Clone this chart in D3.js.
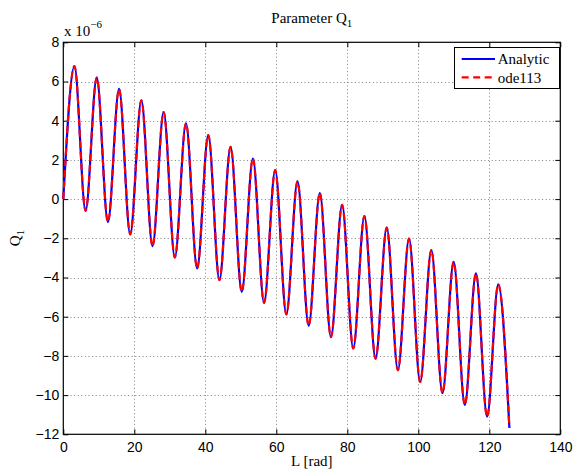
<!DOCTYPE html>
<html>
<head>
<meta charset="utf-8">
<script src="https://cdn.jsdelivr.net/npm/d3@7"></script>
<style>
  body { margin: 0; background: #fff; }
  svg { display: block; font-family: "Liberation Serif", "Times New Roman", serif; }
</style>
</head>
<body>
<svg id="svg" width="573" height="471"></svg>
<script>
const $svg = d3.select('#svg')

// extrema of Q1 (units of 1e-6), L in rad
const troughL = [0, 6.28, 12.57, 18.85, 25.13, 31.42, 37.70, 43.98, 50.27, 56.55, 62.83,
	69.12, 75.40, 81.68, 87.96, 94.25, 100.53, 106.81, 113.10, 119.38, 125.66]
const troughQ = [0, -0.60, -1.17, -1.80, -2.40, -2.98, -3.54, -4.13, -4.73, -5.29, -5.88,
	-6.46, -7.04, -7.62, -8.14, -8.73, -9.33, -9.90, -10.50, -11.10, -11.68]
const peakL = [3.14, 9.42, 15.71, 21.99, 28.27, 34.56, 40.84, 47.12, 53.41, 59.69,
	65.97, 72.26, 78.54, 84.82, 91.11, 97.39, 103.67, 109.96, 116.24, 122.52]
const peakQ = [6.79, 6.20, 5.62, 5.04, 4.44, 3.87, 3.27, 2.67, 2.07, 1.48,
	0.90, 0.31, -0.29, -0.87, -1.46, -2.02, -2.60, -3.20, -3.79, -4.35]

const xTicks = [0, 20, 40, 60, 80, 100, 120, 140]
const yTicks = [-12, -10, -8, -6, -4, -2, 0, 2, 4, 6, 8]
const seriesNames = ['Analytic', 'ode113']

const plotLeft = 63.3, plotRight = 560.3, plotTop = 42.3, plotBottom = 434.3

const xScale = d3.scaleLinear().domain([0, 140]).range([plotLeft, plotRight])
const yScale = d3.scaleLinear().domain([-12, 8]).range([plotBottom, plotTop])

// interleave troughs and peaks into one curve
const points = []
troughL.forEach((l, i) => {
	points.push({ x: l, y: troughQ[i] })
	if (i < peakL.length) points.push({ x: peakL[i], y: peakQ[i] })
})

// grid
const $grid = $svg.append('g')
	.attr('stroke', '#808080')
	.attr('stroke-width', 1)
	.attr('stroke-dasharray', '1,2.6')
$grid.selectAll('.gx').data(xTicks.slice(1, -1)).join('line').attr('class', 'gx')
	.attr('x1', d => Math.round(xScale(d)) + 0.5).attr('x2', d => Math.round(xScale(d)) + 0.5)
	.attr('y1', plotTop).attr('y2', plotBottom)
$grid.selectAll('.gy').data(yTicks.slice(1, -1)).join('line').attr('class', 'gy')
	.attr('y1', d => Math.round(yScale(d)) + 0.5).attr('y2', d => Math.round(yScale(d)) + 0.5)
	.attr('x1', plotLeft).attr('x2', plotRight)

// axes
const styleAxis = (g) => {
	g.select('.domain').remove()
	g.selectAll('line').attr('stroke', '#000')
	g.selectAll('text').attr('font-size', 14).attr('fill', '#000')
}
$svg.append('g').attr('transform', `translate(0,${plotBottom})`)
	.call(d3.axisBottom(xScale).tickValues(xTicks).tickSize(-5).tickPadding(8).tickFormat(d3.format('d')))
	.call(styleAxis)
$svg.append('g').attr('transform', `translate(0,${plotTop})`)
	.call(d3.axisTop(xScale).tickValues(xTicks).tickSize(-5).tickFormat(''))
	.call(styleAxis)
$svg.append('g').attr('transform', `translate(${plotLeft},0)`)
	.call(d3.axisLeft(yScale).tickValues(yTicks).tickSize(-5).tickPadding(4).tickFormat(d => d < 0 ? '\u2212' + Math.abs(d) : d))
	.call(styleAxis)
$svg.append('g').attr('transform', `translate(${plotRight},0)`)
	.call(d3.axisRight(yScale).tickValues(yTicks).tickSize(-5).tickFormat(''))
	.call(styleAxis)

$svg.append('rect')
	.attr('x', plotLeft).attr('y', plotTop)
	.attr('width', plotRight - plotLeft).attr('height', plotBottom - plotTop)
	.attr('fill', 'none').attr('stroke', '#000').attr('stroke-width', 1.2)

// curves
const generateLine = d3.line()
	.x(d => xScale(d.x))
	.y(d => yScale(d.y))
	.curve(d3.curveMonotoneX)

$svg.append('path')
	.attr('d', generateLine(points))
	.attr('fill', 'none').attr('stroke', '#0000ff').attr('stroke-width', 2.2)
$svg.append('path')
	.attr('d', generateLine(points))
	.attr('fill', 'none').attr('stroke', '#ff0000').attr('stroke-width', 2.2)
	.attr('stroke-dasharray', '7,4')

// exponent
const $exp = $svg.append('text').attr('x', 64).attr('y', 36).attr('font-size', 15)
$exp.append('tspan').text('x 10')
$exp.append('tspan').attr('dy', -8).attr('font-size', 11).text('\u22126')

// title
const $title = $svg.append('text').attr('x', (plotLeft + plotRight) / 2).attr('y', 23)
	.attr('text-anchor', 'middle').attr('font-size', 15)
$title.append('tspan').text('Parameter Q')
$title.append('tspan').attr('dy', 4).attr('font-size', 11).text('1')

// axis labels
$svg.append('text').attr('x', (plotLeft + plotRight) / 2).attr('y', 466)
	.attr('text-anchor', 'middle').attr('font-size', 15).text('L [rad]')
const $yl = $svg.append('text').attr('transform', 'translate(20,238) rotate(-90)')
	.attr('text-anchor', 'middle').attr('font-size', 15)
$yl.append('tspan').text('Q')
$yl.append('tspan').attr('dy', 4).attr('font-size', 11).text('1')

// legend
const $legend = $svg.append('g')
$legend.append('rect')
	.attr('x', 454.5).attr('y', 47.5).attr('width', 105).attr('height', 41)
	.attr('fill', '#fff').attr('stroke', '#000').attr('stroke-width', 1)
const legendY = d3.scalePoint().domain(seriesNames).range([59, 77.3])
$legend.selectAll('line').data(seriesNames).join('line')
	.attr('x1', 461.7).attr('x2', 495)
	.attr('y1', d => legendY(d)).attr('y2', d => legendY(d))
	.attr('stroke', (d, i) => i === 0 ? '#0000ff' : '#ff0000')
	.attr('stroke-width', 2.2)
	.attr('stroke-dasharray', (d, i) => i === 0 ? null : '7,4.5')
$legend.selectAll('text').data(seriesNames).join('text')
	.attr('x', 497.7).attr('y', d => legendY(d)).attr('dy', '0.35em')
	.attr('font-size', 15).text(d => d)
</script>
</body>
</html>
